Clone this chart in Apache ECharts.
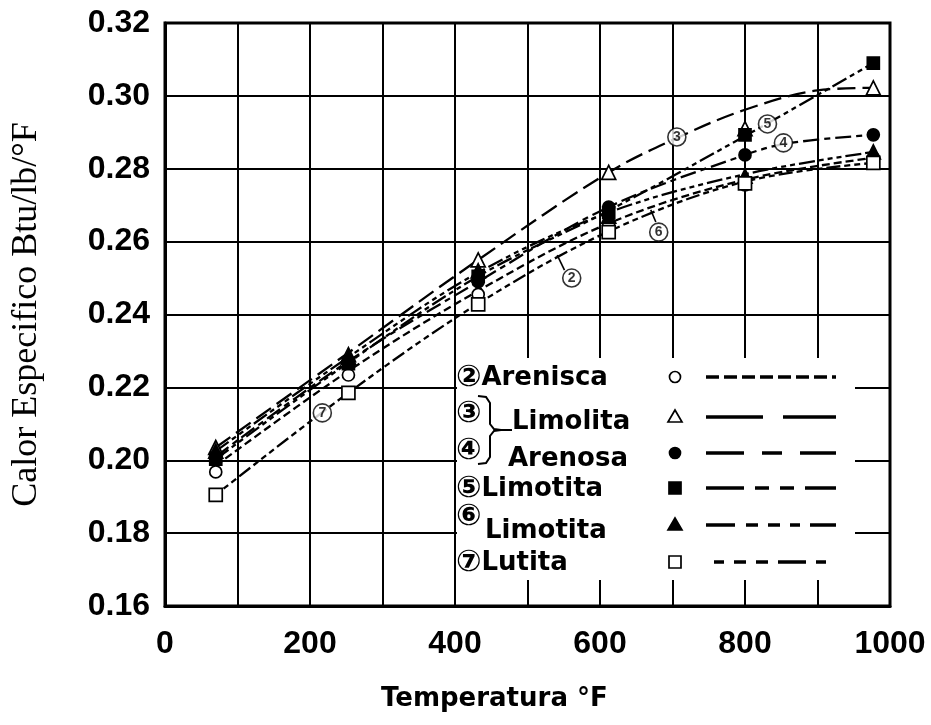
<!DOCTYPE html>
<html><head><meta charset="utf-8">
<script src="https://cdn.jsdelivr.net/npm/echarts@6/dist/echarts.min.js"></script>
<style>html,body{margin:0;padding:0;background:#fff}#c{width:931px;height:725px}</style>
</head><body><div id="c"></div>
<script>
// ---- data ----
const xTickLabels = ['0', '200', '400', '600', '800', '1000'];
const yTickLabels = ['0.16', '0.18', '0.20', '0.22', '0.24', '0.26', '0.28', '0.30', '0.32'];
const pointX = [70, 253, 432, 612, 800, 977];

// measured points (markers)
const areniscaPts   = [0.1968, 0.2234, 0.2455, 0.2645, 0.2756, 0.2830];
const limolitaPts   = [0.2035, 0.2290, 0.2550, 0.2790, 0.2910, 0.3022];
const arenosaPts    = [0.2010, 0.2270, 0.2490, 0.2695, 0.2838, 0.2893];
const limotita5Pts  = [0.2003, 0.2265, 0.2505, 0.2680, 0.2893, 0.3090];
const limotita6Pts  = [0.2025, 0.2283, 0.2520, 0.2670, 0.2780, 0.2846];
const lutitaPts     = [0.1905, 0.2185, 0.2428, 0.2626, 0.2760, 0.2816];

// fitted curves
const areniscaCurveX  = [70, 253, 432, 612, 800, 977];
const areniscaCurve   = [0.1985, 0.2245, 0.2465, 0.2650, 0.2770, 0.2830];
const limolitaCurveX  = [70, 253, 432, 612, 710, 800, 900, 977];
const limolitaCurve   = [0.2035, 0.2295, 0.2550, 0.2790, 0.2888, 0.2962, 0.3015, 0.3022];
const arenosaCurveX   = [70, 253, 432, 612, 800, 860, 977];
const arenosaCurve    = [0.2010, 0.2272, 0.2490, 0.2695, 0.2838, 0.2870, 0.2893];
const limotita5CurveX = [70, 253, 432, 612, 800, 977];
const limotita5Curve  = [0.2003, 0.2268, 0.2505, 0.2685, 0.2890, 0.3090];
const limotita6CurveX = [70, 253, 432, 612, 800, 977];
const limotita6Curve  = [0.2025, 0.2283, 0.2515, 0.2680, 0.2785, 0.2846];
const lutitaCurveX    = [70, 253, 432, 612, 800, 977];
const lutitaCurve     = [0.1905, 0.2185, 0.2430, 0.2628, 0.2765, 0.2816];

// curve tags inside the plot
const tagX     = [561, 706, 853, 831, 681, 217];
const tagY     = [0.2500, 0.2887, 0.2871, 0.2923, 0.2626, 0.2130];
const tagText  = ['2', '3', '4', '5', '6', '7'];
// leader lines for tags 2 and 6
const leader2 = [[551, 0.2522], [541, 0.2563]];
const leader6 = [[677, 0.2654], [670, 0.2687]];

// legend texts: [circled number, name]
const legendNums  = ['②', '③', '④', '⑤', '⑥', '⑦'];
const legendNames = ['Arenisca', 'Limolita', 'Arenosa', 'Limotita', 'Limotita', 'Lutita'];

// ---- styles ----
const defs = [
  {pts: areniscaPts, cx: areniscaCurveX, cy: areniscaCurve, symbol: 'circle', fill: '#fff', size: 12, dash: [8, 4], ldash: [13, 5]},
  {pts: limolitaPts, cx: limolitaCurveX, cy: limolitaCurve, symbol: 'triangle', fill: '#fff', size: 14, dash: [18, 7], ldash: [57, 20]},
  {pts: arenosaPts, cx: arenosaCurveX, cy: arenosaCurve, symbol: 'circle', fill: '#000', size: 12, dash: [16, 5, 6, 5], ldash: [38, 18, 20, 18]},
  {pts: limotita5Pts, cx: limotita5CurveX, cy: limotita5Curve, symbol: 'rect', fill: '#000', size: 12, dash: [16, 4, 5, 4, 5, 4], ldash: [38, 11, 14, 11, 14, 11]},
  {pts: limotita6Pts, cx: limotita6CurveX, cy: limotita6Curve, symbol: 'triangle', fill: '#000', size: 14, dash: [16, 4, 5, 4, 5, 4, 5, 4], ldash: [29, 11, 12, 10, 12, 10, 10, 10]},
  {pts: lutitaPts, cx: lutitaCurveX, cy: lutitaCurve, symbol: 'rect', fill: '#fff', size: 13, dash: [6, 4, 6, 4, 6, 4, 14, 4], ldash: [10, 10, 12, 10, 12, 10, 28, 10]}
];

const series = [];
defs.forEach(function (d) {
  series.push({
    type: 'line', smooth: 0.35, symbol: 'none', z: 3,
    data: d.cx.map(function (x, i) { return [x, d.cy[i]]; }),
    lineStyle: {color: '#000', width: 2.3, type: d.dash},
    silent: true
  });
});
defs.forEach(function (d) {
  series.push({
    type: 'scatter', symbol: d.symbol, symbolSize: d.size, z: 5,
    data: pointX.map(function (x, i) { return [x, d.pts[i]]; }),
    itemStyle: {color: d.fill, borderColor: '#000', borderWidth: 1.7, opacity: 1}
  });
});
[leader2, leader6].forEach(function (l) {
  series.push({type: 'line', symbol: 'none', z: 4, data: l, lineStyle: {color: '#000', width: 1.6}});
});
series.push({
  type: 'scatter', symbol: 'circle', symbolSize: 18, z: 6,
  data: tagX.map(function (x, i) { return [x, tagY[i]]; }),
  itemStyle: {color: '#fff', borderColor: '#000', borderWidth: 1.6},
  label: {show: true, position: 'inside', color: '#000', fontFamily: 'Liberation Sans', fontWeight: 'bold', fontSize: 14,
    formatter: function (p) { return tagText[p.dataIndex]; }}
});

// ---- legend (drawn box) ----
const g = [];
g.push({type: 'rect', shape: {x: 457, y: 358, width: 398, height: 222}, style: {fill: '#fff'}, z: 10});
const rich = {
  n: {fontFamily: 'DejaVu Sans', fontWeight: 'bold', fontSize: 30, fill: '#000'},
  t: {fontFamily: 'DejaVu Sans', fontWeight: 'bold', fontSize: 26, fill: '#000'}
};
const tf = function (text, x, y) {
  return {type: 'text', x: x, y: y, z: 11, style: {text: text, rich: rich, fill: '#000', verticalAlign: 'middle', align: 'left'}};
};
g.push(tf('{n|' + legendNums[0] + '}{t|' + legendNames[0] + '}', 456, 378));
g.push(tf('{n|' + legendNums[1] + '}', 456, 414));
g.push(tf('{n|' + legendNums[2] + '}', 456, 451));
g.push(tf('{t|' + legendNames[1] + '}', 512, 422));
g.push(tf('{t|' + legendNames[2] + '}', 508, 459));
g.push(tf('{n|' + legendNums[3] + '}{t|' + legendNames[3] + '}', 456, 489));
g.push(tf('{n|' + legendNums[4] + '}', 456, 517));
g.push(tf('{t|' + legendNames[4] + '}', 485, 531));
g.push(tf('{n|' + legendNums[5] + '}{t|' + legendNames[5] + '}', 456, 563));
// brace
g.push({type: 'polyline', z: 11, shape: {points: [[478, 396], [486, 397], [490, 403], [490, 424], [494, 429], [501, 430], [512, 430]]}, style: {stroke: '#000', lineWidth: 2, fill: null}});
g.push({type: 'polyline', z: 11, shape: {points: [[501, 430], [494, 431], [490, 436], [490, 457], [486, 463], [478, 464]]}, style: {stroke: '#000', lineWidth: 2, fill: null}});
const legY = [377, 417, 453, 488, 525, 562];
const symX = 675;
defs.forEach(function (d, i) {
  const y = legY[i];
  const st = {fill: d.fill, stroke: '#000', lineWidth: 1.7};
  if (d.symbol === 'circle') g.push({type: 'circle', z: 11, shape: {cx: symX, cy: y, r: 5.5}, style: st});
  else if (d.symbol === 'rect') g.push({type: 'rect', z: 11, shape: {x: symX - 6, y: y - 6, width: 12, height: 12}, style: st});
  else g.push({type: 'polygon', z: 11, shape: {points: [[symX, y - 7], [symX + 7, y + 5], [symX - 7, y + 5]]}, style: st});
  g.push({type: 'line', z: 11, shape: {x1: i === 5 ? 714 : 706, y1: y, x2: 836, y2: y}, style: {stroke: '#000', lineWidth: 3.4, lineDash: d.ldash}});
});

const chart = echarts.init(document.getElementById('c'), null, {renderer: 'canvas'});
chart.setOption({
  backgroundColor: '#fff',
  animation: false,
  title: {text: 'Temperatura °F', left: 381, top: 686, textStyle: {fontFamily: 'DejaVu Sans', fontWeight: 'bold', fontSize: 26, color: '#000'}, padding: 0},
  grid: {left: 165, right: 41, top: 23, bottom: 119, show: true, borderColor: '#000', borderWidth: 3, backgroundColor: 'transparent'},
  xAxis: {
    type: 'value', min: 0, max: 1000, interval: 100,
    axisLine: {show: true, lineStyle: {color: '#000', width: 3}},
    axisTick: {show: false},
    splitLine: {show: true, lineStyle: {color: '#000', width: 2}},
    axisLabel: {color: '#000', fontFamily: 'Liberation Sans', fontWeight: 'bold', fontSize: 32, margin: 22,
      formatter: function (v) { const s = String(Math.round(v)); return xTickLabels.indexOf(s) >= 0 ? s : ''; }}
  },
  yAxis: {
    type: 'value', min: 0.16, max: 0.32, interval: 0.02,
    name: 'Calor Especifico Btu/lb/°F', nameLocation: 'middle', nameGap: 120,
    nameTextStyle: {fontFamily: 'Liberation Serif', fontSize: 36, color: '#000'},
    axisLine: {show: true, lineStyle: {color: '#000', width: 3}},
    axisTick: {show: false},
    splitLine: {show: true, lineStyle: {color: '#000', width: 2}},
    axisLabel: {color: '#000', fontFamily: 'Liberation Sans', fontWeight: 'bold', fontSize: 32, margin: 15,
      formatter: function (v) { const s = v.toFixed(2); return yTickLabels.indexOf(s) >= 0 ? s : ''; }}
  },
  series: series,
  graphic: {elements: g}
});
</script></body></html>
